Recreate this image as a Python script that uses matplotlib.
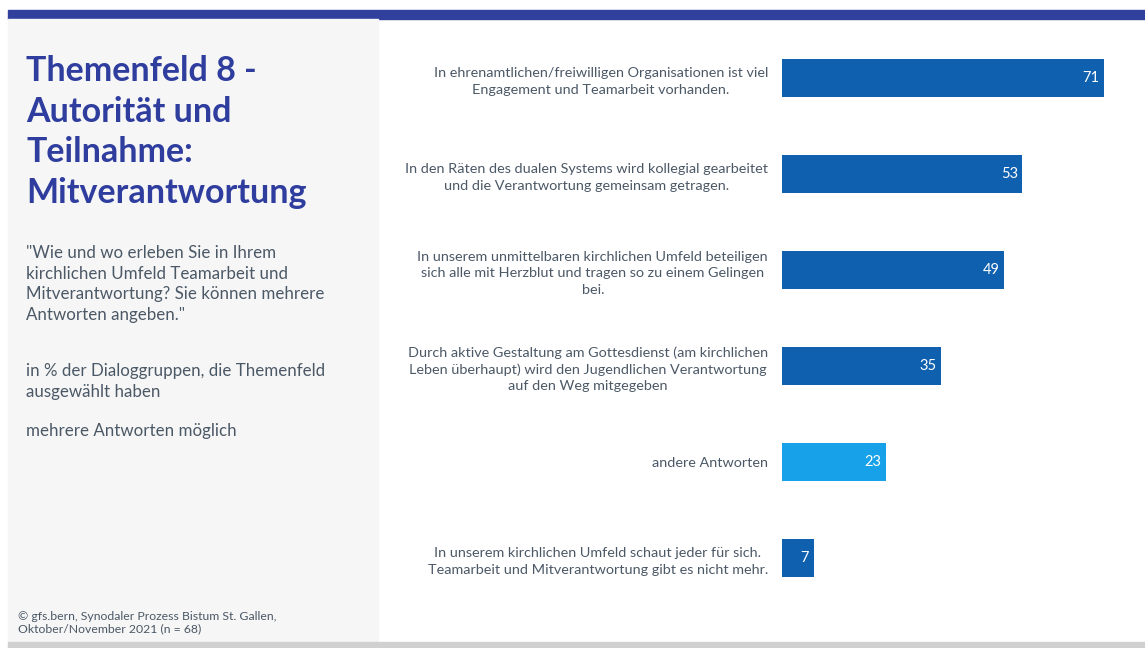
import matplotlib.pyplot as plt
from matplotlib.patches import Rectangle

# data
labels = [
    "In ehrenamtlichen/freiwilligen Organisationen ist viel\nEngagement und Teamarbeit vorhanden.",
    "In den Räten des dualen Systems wird kollegial gearbeitet\nund die Verantwortung gemeinsam getragen.",
    "In unserem unmittelbaren kirchlichen Umfeld beteiligen\nsich alle mit Herzblut und tragen so zu einem Gelingen\nbei.",
    "Durch aktive Gestaltung am Gottesdienst (am kirchlichen\nLeben überhaupt) wird den Jugendlichen Verantwortung\nauf den Weg mitgegeben",
    "andere Antworten",
    "In unserem kirchlichen Umfeld schaut jeder für sich.\nTeamarbeit und Mitverantwortung gibt es nicht mehr.",
]
values = [71, 53, 49, 35, 23, 7]
highlight = [False, False, False, False, True, False]

DARK = "#0f60ae"
LIGHT = "#17a1e8"
TITLE = "#2e3d9e"
GREY = "#4b5866"

plt.rcParams['font.family'] = ['Lato', 'DejaVu Sans']

W, H = 1145, 648
fig = plt.figure(figsize=(W / 100, H / 100), dpi=100)

# background pieces (figure pixel coords -> fractions)
def box(x0, y0, x1, y1, color):
    fig.patches.append(Rectangle((x0 / W, 1 - y1 / H), (x1 - x0) / W, (y1 - y0) / H,
                                 transform=fig.transFigure, color=color, zorder=0))

box(8, 10, W, 19, "#30409c")
box(8, 19, 378, 642, "#f6f6f6")
box(8, 642, W, H, "#d0d0d0")

# bar chart
ax = fig.add_axes([782 / W, 1 - 606 / H, (W - 782) / W, 576 / H])
ypos = list(range(len(values)))
colors = [LIGHT if h else DARK for h in highlight]
ax.barh(ypos, values, height=0.4, color=colors)
for y, v in zip(ypos, values):
    ax.text(v - 1.0, y, str(v), ha='right', va='center', color='white', fontsize=10.5)
ax.set_xlim(0, 80)
ax.set_ylim(len(values) - 0.5, -0.5)
ax.set_yticks(ypos)
ax.set_yticklabels(labels, fontsize=10.4, color=GREY, multialignment='center', linespacing=1.45)
ax.tick_params(axis='y', length=0, pad=10)
ax.set_xticks([])
for s in ax.spines.values():
    s.set_visible(False)
ax.patch.set_alpha(0)

# left panel text
def ftext(x, y, s, **kw):
    fig.text(x / W, 1 - y / H, s, **kw)

ftext(26, 55, "Themenfeld 8 -\nAutorität und\nTeilnahme:\nMitverantwortung",
      fontsize=24.5, fontweight='bold', color=TITLE, va='top', linespacing=1.33)
ftext(26, 245, "\"Wie und wo erleben Sie in Ihrem\nkirchlichen Umfeld Teamarbeit und\n"
      "Mitverantwortung? Sie können mehrere\nAntworten angeben.\"",
      fontsize=12.2, color=GREY, va='top', linespacing=1.35)
ftext(26, 363, "in % der Dialoggruppen, die Themenfeld\nausgewählt haben",
      fontsize=12.2, color=GREY, va='top', linespacing=1.35)
ftext(26, 423, "mehrere Antworten möglich", fontsize=12.2, color=GREY, va='top')
ftext(18, 611, "© gfs.bern, Synodaler Prozess Bistum St. Gallen,\nOktober/November 2021 (n = 68)",
      fontsize=8.8, color=GREY, va='top', linespacing=1.1)

fig.savefig("out.png", dpi=100)
